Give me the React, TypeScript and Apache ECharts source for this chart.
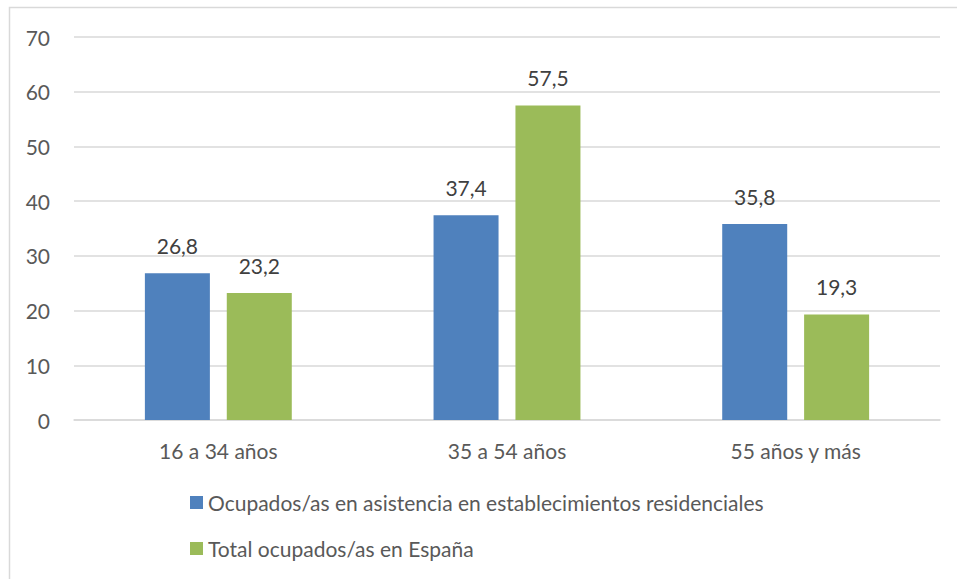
import React, { useEffect, useRef } from "react";
import * as echarts from "echarts";

const categories = ["16 a 34 años", "35 a 54 años", "55 años y más"];
const seriesNames = [
  "Ocupados/as en asistencia en establecimientos residenciales",
  "Total ocupados/as en España",
];
const residenciales = [26.8, 37.4, 35.8];
const totalEspana = [23.2, 57.5, 19.3];
const colors = ["#4F81BD", "#9BBB59"];

const FONT = "Lato";

export default function App() {
  const ref = useRef<HTMLDivElement>(null);
  useEffect(() => {
    document.body.style.margin = "0";
    const chart = echarts.init(ref.current!, null, { renderer: "svg" });
    const labelFmt = (p: any) => String(p.value).replace(".", ",");
    chart.setOption({
      animation: false,
      textStyle: { fontFamily: FONT },
      graphic: [
        {
          type: "rect",
          shape: { x: 9.5, y: 7.5, width: 1000, height: 1000 },
          style: { fill: "none", stroke: "#d9d9d9", lineWidth: 1.5 },
          silent: true,
        },
      ],
      grid: { left: 74, right: 17, top: 37, bottom: 159 },
      legend: {
        orient: "vertical",
        left: 190,
        top: 492,
        padding: 0,
        itemWidth: 13,
        itemHeight: 13,
        itemGap: 25,
        itemTextGap: 6,
        icon: "rect",
        textStyle: { fontSize: 21, color: "#595959", fontFamily: FONT },
        data: seriesNames,
      },
      xAxis: {
        type: "category",
        data: categories,
        axisLine: { lineStyle: { color: "#d9d9d9", width: 1.5 } },
        axisTick: { show: false },
        axisLabel: { fontSize: 21, color: "#595959", margin: 20, fontFamily: FONT },
      },
      yAxis: {
        type: "value",
        min: 0,
        max: 70,
        interval: 10,
        axisLine: { show: false },
        axisTick: { show: false },
        splitLine: { lineStyle: { color: "#d9d9d9", width: 1.5 } },
        axisLabel: { fontSize: 21, color: "#595959", margin: 24, fontFamily: FONT },
      },
      series: [
        {
          name: seriesNames[0],
          type: "bar",
          data: residenciales,
          barWidth: 65,
          barGap: "26%",
          itemStyle: { color: colors[0] },
          label: {
            show: true,
            position: "top",
            distance: 17,
            fontSize: 21,
            color: "#404040",
            fontFamily: FONT,
            formatter: labelFmt,
          },
        },
        {
          name: seriesNames[1],
          type: "bar",
          data: totalEspana,
          barWidth: 65,
          barGap: "26%",
          itemStyle: { color: colors[1] },
          label: {
            show: true,
            position: "top",
            distance: 17,
            fontSize: 21,
            color: "#404040",
            fontFamily: FONT,
            formatter: labelFmt,
          },
        },
      ],
    });
    return () => chart.dispose();
  }, []);
  return <div ref={ref} style={{ width: 957, height: 579 }} />;
}
